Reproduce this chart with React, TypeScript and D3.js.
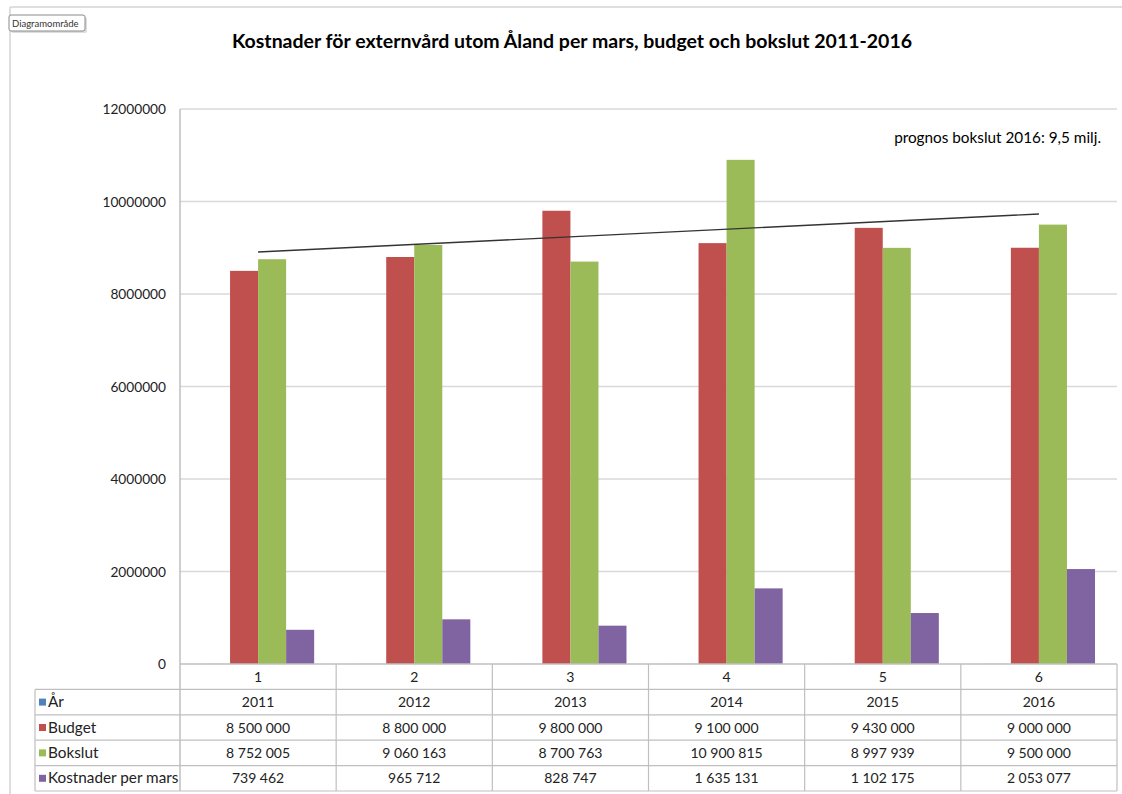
import { useEffect, useRef } from "react";
import * as d3 from "d3";

const categories = ["1", "2", "3", "4", "5", "6"];
const seriesNames = ["År", "Budget", "Bokslut", "Kostnader per mars"];
const seriesColors = ["#4F81BD", "#C0504D", "#9BBB59", "#8064A2"];
const arValues = [2011, 2012, 2013, 2014, 2015, 2016];
const budget = [8500000, 8800000, 9800000, 9100000, 9430000, 9000000];
const bokslut = [8752005, 9060163, 8700763, 10900815, 8997939, 9500000];
const kostnader = [739462, 965712, 828747, 1635131, 1102175, 2053077];
const yTicks = [0, 2000000, 4000000, 6000000, 8000000, 10000000, 12000000];

const title = "Kostnader för externvård utom Åland per mars, budget och bokslut 2011-2016";
const note = "prognos bokslut 2016: 9,5 milj.";

const FONT = "Lato, 'Liberation Sans', sans-serif";

const App = () => {
    const ref = useRef<SVGSVGElement | null>(null);

    useEffect(() => {
        if (!ref.current) return;
        const svg = d3.select(ref.current);
        svg.selectAll("*").remove();

        const width = 1122;
        const height = 794;
        const plot = { left: 180, right: 1117, top: 109, bottom: 664 };
        const tableLeft = 35;
        const rowH = 25.4;

        const values = [arValues, budget, bokslut, kostnader];

        const x = d3.scaleBand().domain(categories).range([plot.left, plot.right]);
        const xs = d3.scaleBand()
            .domain(seriesNames)
            .range([0, x.bandwidth()])
            .paddingInner(0)
            .paddingOuter(0.785);
        const y = d3.scaleLinear().domain([0, 12000000]).range([plot.bottom, plot.top]);

        svg.attr("width", width).attr("height", height);

        // outer frame lines
        svg.append("line").attr("x1", 10).attr("x2", width).attr("y1", 7).attr("y2", 7)
            .attr("stroke", "#d4d4d4").attr("stroke-width", 1.5);
        svg.append("line").attr("x1", 10).attr("x2", 10).attr("y1", 7).attr("y2", height)
            .attr("stroke", "#d4d4d4").attr("stroke-width", 1.5);

        // "Diagramområde" tooltip
        svg.append("rect").attr("x", 11).attr("y", 17).attr("width", 76).attr("height", 16)
            .attr("rx", 2).attr("fill", "#aaa").attr("opacity", 0.4);
        svg.append("rect").attr("x", 9).attr("y", 15).attr("width", 76).attr("height", 16)
            .attr("rx", 2).attr("fill", "#fff").attr("stroke", "#8a8a8a");
        svg.append("text").attr("x", 12).attr("y", 26.5).text("Diagramområde")
            .attr("font-family", FONT).attr("font-size", 9.5).attr("fill", "#333");

        // title
        svg.append("text").attr("x", 572).attr("y", 48).attr("text-anchor", "middle")
            .attr("font-family", FONT).attr("font-weight", "bold").attr("font-size", 19.5)
            .attr("fill", "#000").text(title);

        // gridlines
        svg.append("g").selectAll("line")
            .data(yTicks.filter(d => d > 0))
            .join("line")
            .attr("x1", plot.left).attr("x2", plot.right)
            .attr("y1", d => y(d)).attr("y2", d => y(d))
            .attr("stroke", "#d9d9d9").attr("stroke-width", 1.5);

        // y labels
        svg.append("g").selectAll("text")
            .data(yTicks)
            .join("text")
            .attr("x", 166).attr("y", d => y(d) + 5)
            .attr("text-anchor", "end")
            .attr("font-family", FONT).attr("font-size", 13.7).attr("fill", "#222")
            .text(d => String(d));

        // bars
        seriesNames.forEach((name, si) => {
            svg.append("g").selectAll("rect")
                .data(values[si])
                .join("rect")
                .attr("x", (_, i) => (x(categories[i]) as number) + (xs(name) as number))
                .attr("y", d => y(d))
                .attr("width", xs.bandwidth())
                .attr("height", d => y(0) - y(d))
                .attr("fill", seriesColors[si]);
        });

        // linear trendline on Bokslut (Excel-style least squares)
        const xi = categories.map((_, i) => i + 1);
        const mx = d3.mean(xi) as number;
        const my = d3.mean(bokslut) as number;
        const slope = d3.sum(xi.map((v, i) => (v - mx) * (bokslut[i] - my))) /
            d3.sum(xi.map(v => (v - mx) * (v - mx)));
        const icpt = my - slope * mx;
        const cx = (c: string) => (x(c) as number) + x.bandwidth() / 2;
        svg.append("line")
            .attr("x1", cx(categories[0])).attr("y1", y(icpt + slope * 1))
            .attr("x2", cx(categories[5])).attr("y2", y(icpt + slope * 6))
            .attr("stroke", "#333").attr("stroke-width", 1.3);

        // annotation
        svg.append("text").attr("x", 1101).attr("y", 143).attr("text-anchor", "end")
            .attr("font-family", FONT).attr("font-size", 15.3).attr("fill", "#000").text(note);

        // axis lines
        svg.append("line").attr("x1", plot.left).attr("x2", plot.left)
            .attr("y1", plot.top).attr("y2", plot.bottom + rowH * 5)
            .attr("stroke", "#bfbfbf").attr("stroke-width", 1.5);
        svg.append("line").attr("x1", plot.left).attr("x2", plot.right)
            .attr("y1", plot.bottom).attr("y2", plot.bottom)
            .attr("stroke", "#bfbfbf").attr("stroke-width", 1.5);

        // data table
        const tbl = svg.append("g");
        const rowsY = d3.range(6).map(r => plot.bottom + r * rowH);
        rowsY.slice(1).forEach(ry => {
            tbl.append("line").attr("x1", tableLeft).attr("x2", plot.right)
                .attr("y1", ry).attr("y2", ry).attr("stroke", "#bfbfbf").attr("stroke-width", 1.2);
        });
        const colEdges = categories.map(c => x(c) as number).concat([plot.right]);
        colEdges.slice(1).forEach(cxv => {
            tbl.append("line").attr("x1", cxv).attr("x2", cxv)
                .attr("y1", plot.bottom).attr("y2", rowsY[5])
                .attr("stroke", "#bfbfbf").attr("stroke-width", 1.2);
        });
        tbl.append("line").attr("x1", tableLeft).attr("x2", tableLeft)
            .attr("y1", rowsY[1]).attr("y2", rowsY[5])
            .attr("stroke", "#bfbfbf").attr("stroke-width", 1.2);

        const fmt = d3.formatLocale({ decimal: ",", thousands: " ", grouping: [3], currency: ["", ""] }).format(",d");

        // category row
        tbl.append("g").selectAll("text")
            .data(categories)
            .join("text")
            .attr("x", d => cx(d)).attr("y", rowsY[0] + rowH / 2 + 5)
            .attr("text-anchor", "middle")
            .attr("font-family", FONT).attr("font-size", 14).attr("fill", "#222")
            .text(d => d);

        seriesNames.forEach((name, si) => {
            const ry = rowsY[si + 1];
            tbl.append("rect").attr("x", tableLeft + 4).attr("y", ry + rowH / 2 - 3.5)
                .attr("width", 7).attr("height", 7).attr("fill", seriesColors[si]);
            tbl.append("text").attr("x", tableLeft + 13).attr("y", ry + rowH / 2 + 5)
                .attr("font-family", FONT).attr("font-size", 15.3).attr("fill", "#222")
                .text(name);
            tbl.append("g").selectAll("text")
                .data(values[si])
                .join("text")
                .attr("x", (_, i) => cx(categories[i])).attr("y", ry + rowH / 2 + 5)
                .attr("text-anchor", "middle")
                .attr("font-family", FONT).attr("font-size", 14).attr("fill", "#222")
                .text(d => (si === 0 ? String(d) : fmt(d)));
        });
    }, []);

    return (
        <svg ref={ref} style={{ position: "absolute", left: 0, top: 0, display: "block", background: "#fff" }}></svg>
    );
};

export default App;
